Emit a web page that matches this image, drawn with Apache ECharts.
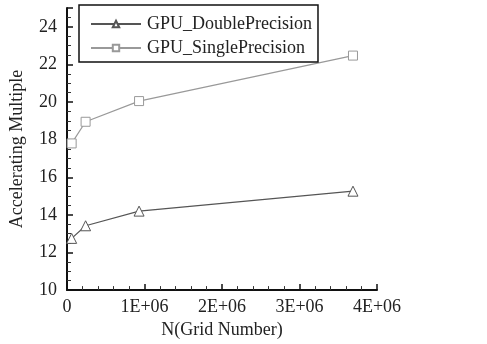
<!DOCTYPE html>
<html>
<head>
<meta charset="utf-8">
<script src="https://cdn.jsdelivr.net/npm/echarts@6/dist/echarts.min.js"></script>
<style>
  html, body { margin: 0; padding: 0; background: #fff; }
  #chart { width: 487px; height: 344px; }
</style>
</head>
<body>
<div id="chart"></div>
<script>
// Grid sizes (N) and speed-up multiples for the two precisions
const gridNumbers = [60000, 240000, 930000, 3690000];
const doublePrecision = [12.75, 13.42, 14.2, 15.26];
const singlePrecision = [17.8, 18.95, 20.05, 22.47];
const seriesNames = ['GPU_DoublePrecision', 'GPU_SinglePrecision'];

const serif = '"Liberation Serif", "Times New Roman", serif';

const chart = echarts.init(document.getElementById('chart'));

function pairs(xs, ys) {
  return xs.map((x, i) => [x, ys[i]]);
}

chart.setOption({
  animation: false,
  backgroundColor: '#fff',
  grid: { left: 63, right: 110, top: 8, bottom: 51 },
  legend: {
    left: 79, top: 5,
    orient: 'vertical',
    itemWidth: 50, itemHeight: 8, itemGap: 6,
    padding: [10, 6, 5, 11],
    borderColor: '#111', borderWidth: 1.5,
    backgroundColor: '#fff',
    textStyle: { fontFamily: serif, fontSize: 18, color: '#222', padding: [0, 0, 0, 1] },
    data: seriesNames
  },
  xAxis: {
    type: 'value', min: 0, max: 4000000, interval: 1000000,
    name: 'N(Grid Number)', nameLocation: 'middle', nameGap: 28,
    nameTextStyle: { fontFamily: serif, fontSize: 18, color: '#222' },
    axisLine: { lineStyle: { color: '#111', width: 2 } },
    axisTick: { inside: true, length: 6, lineStyle: { color: '#111', width: 1.5 } },
    minorTick: { show: true, splitNumber: 5, length: 4, lineStyle: { color: '#333' } },
    splitLine: { show: false },
    axisLabel: {
      fontFamily: serif, fontSize: 18, color: '#222', margin: 8,
      formatter: v => v === 0 ? '0' : (v / 1000000) + 'E+06'
    }
  },
  yAxis: {
    type: 'value', min: 10, max: 25, interval: 2,
    name: 'Accelerating Multiple', nameLocation: 'middle', nameGap: 41,
    nameTextStyle: { fontFamily: serif, fontSize: 18, color: '#222' },
    axisLine: { show: true, lineStyle: { color: '#111', width: 2 } },
    axisTick: { inside: true, length: 6, lineStyle: { color: '#111', width: 1.5 } },
    minorTick: { show: true, splitNumber: 4, length: 4, lineStyle: { color: '#333' } },
    splitLine: { show: false },
    axisLabel: {
      fontFamily: serif, fontSize: 18, color: '#222', margin: 10,
      formatter: v => (v % 2 === 0 ? String(v) : '')
    }
  },
  series: [
    {
      name: seriesNames[0], type: 'line',
      data: pairs(gridNumbers, doublePrecision),
      symbol: 'triangle', symbolSize: 10, showAllSymbol: true,
      lineStyle: { color: '#555', width: 1.2 },
      itemStyle: { color: '#fff', borderColor: '#555', borderWidth: 1 }
    },
    {
      name: seriesNames[1], type: 'line',
      data: pairs(gridNumbers, singlePrecision),
      symbol: 'rect', symbolSize: 9, showAllSymbol: true,
      lineStyle: { color: '#999', width: 1.2 },
      itemStyle: { color: '#fff', borderColor: '#999', borderWidth: 1 }
    }
  ]
});
</script>
</body>
</html>
